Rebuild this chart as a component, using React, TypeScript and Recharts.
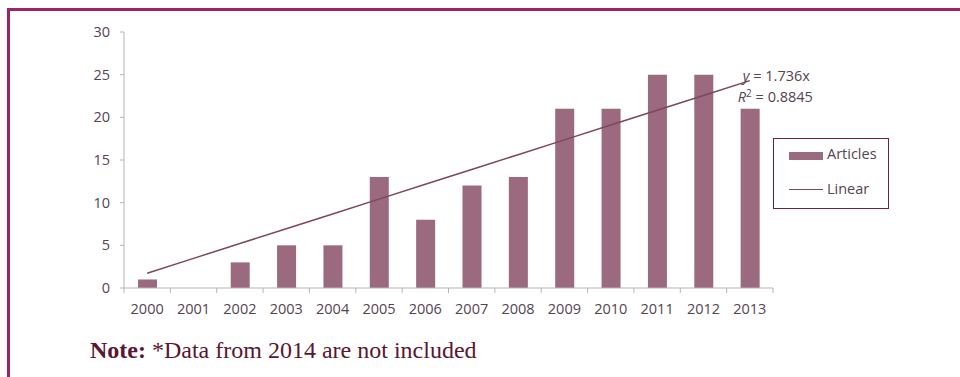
import React from 'react';
import {
  ComposedChart,
  Bar,
  Line,
  XAxis,
  YAxis,
} from 'recharts';

const years = ['2000', '2001', '2002', '2003', '2004', '2005', '2006', '2007', '2008', '2009', '2010', '2011', '2012', '2013'];
const articles = [1, 0, 3, 5, 5, 13, 8, 12, 13, 21, 21, 25, 25, 21];
const slope = 1.736;
const yTicks = [0, 5, 10, 15, 20, 25, 30];

const data = years.map((year, i) => ({
  year,
  articles: articles[i],
  linear: slope * (i + 1),
}));

const CHART_W = 960;
const CHART_H = 320;
const PLOT_LEFT = 124;
const PLOT_RIGHT = 773;
const BAND = (PLOT_RIGHT - PLOT_LEFT) / years.length;

const tickColor = '#564451';
const axisColor = '#b9b3b7';
const barColor = '#9b6a7e';
const lineColor = '#7e4660';
const font = 'Open Sans';

const XTick = (props: any) => {
  const { x, y, payload, index } = props;
  const left = x - BAND / 2;
  return (
    <g>
      <line x1={left} y1={y - 8} x2={left} y2={y - 3} stroke={axisColor} />
      {index === years.length - 1 && (
        <line x1={left + BAND} y1={y - 8} x2={left + BAND} y2={y - 3} stroke={axisColor} />
      )}
      <text x={x} y={y + 18} textAnchor="middle" fill={tickColor} fontSize={14.5} fontFamily={font}>
        {payload.value}
      </text>
    </g>
  );
};

const TrendLabel = (props: any) => {
  const { x, y, index } = props;
  if (index !== years.length - 1) return null;
  return (
    <g fontFamily={font} fontSize={14.5} fill={tickColor}>
      <text x={x - 7} y={y}>
        <tspan fontStyle="italic">y</tspan> = 1.736x
      </text>
      <text x={x - 12} y={y + 21}>
        <tspan fontStyle="italic">R</tspan>
        <tspan fontSize={10} dy={-5}>2</tspan>
        <tspan dy={5}> = 0.8845</tspan>
      </text>
    </g>
  );
};

const LegendBox = () => (
  <div
    style={{
      position: 'absolute',
      left: 773,
      top: 138,
      width: 116,
      height: 71,
      border: '1px solid #6b2148',
      background: '#fff',
      boxSizing: 'border-box',
      fontFamily: font,
      fontSize: 14.5,
      color: tickColor,
    }}
  >
    <div style={{ position: 'absolute', left: 15, top: 13, width: 34, height: 8, background: barColor }} />
    <div style={{ position: 'absolute', left: 53, top: 5 }}>Articles</div>
    <div style={{ position: 'absolute', left: 15, top: 50, width: 34, height: 1, background: lineColor }} />
    <div style={{ position: 'absolute', left: 53, top: 40 }}>Linear</div>
  </div>
);

export default function App() {
  return (
    <div style={{ position: 'fixed', left: 0, top: 0, width: 960, height: 377, background: '#fff', overflow: 'hidden' }}>
      <div
        style={{
          position: 'absolute',
          left: 7,
          top: 8,
          width: 960,
          height: 400,
          borderTop: '3px solid #9c2467',
          borderLeft: '3px solid #9c2467',
        }}
      />
      <div style={{ position: 'absolute', left: 0, top: 0 }}>
        <ComposedChart
          width={CHART_W}
          height={CHART_H}
          data={data}
          margin={{ top: 32, right: CHART_W - PLOT_RIGHT, left: 0, bottom: 2 }}
        >
          <XAxis
            dataKey="year"
            stroke={axisColor}
            tickLine={false}
            tick={<XTick />}
            height={30}
            interval={0}
          />
          <YAxis
            width={PLOT_LEFT}
            domain={[0, 30]}
            ticks={yTicks}
            stroke={axisColor}
            tickSize={4}
            tickMargin={10}
            tick={{ fill: tickColor, fontSize: 14.5, fontFamily: font }}
          />
          <Bar dataKey="articles" name="Articles" fill={barColor} barSize={19} isAnimationActive={false} />
          <Line
            dataKey="linear"
            name="Linear"
            stroke={lineColor}
            strokeWidth={1.5}
            dot={false}
            activeDot={false}
            label={<TrendLabel />}
            isAnimationActive={false}
          />
        </ComposedChart>
      </div>
      <LegendBox />
      <div
        style={{
          position: 'absolute',
          left: 90,
          top: 337,
          fontFamily: '"Liberation Serif", "Times New Roman", serif',
          fontSize: 24,
          color: '#5a1632',
          whiteSpace: 'nowrap',
        }}
      >
        <b>Note:</b> *Data from 2014 are not included
      </div>
    </div>
  );
}
